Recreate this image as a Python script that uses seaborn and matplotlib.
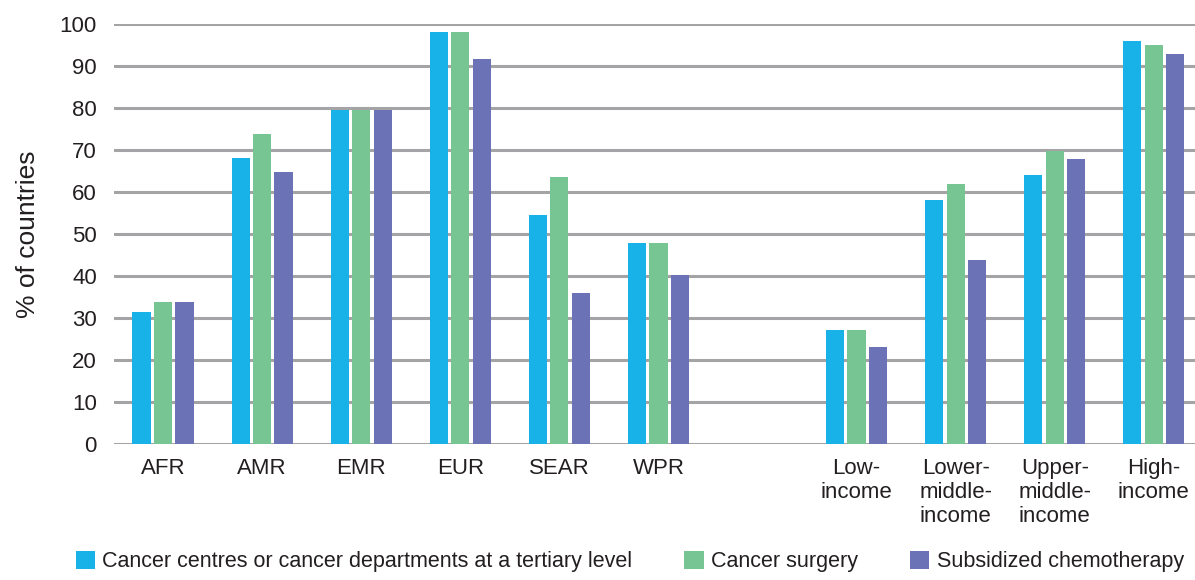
import pandas as pd
import seaborn as sns
import matplotlib.pyplot as plt

# Share of countries with each service, by WHO region and by income group
categories = ["AFR", "AMR", "EMR", "EUR", "SEAR", "WPR", " ",
              "Low-\nincome", "Lower-\nmiddle-\nincome", "Upper-\nmiddle-\nincome", "High-\nincome"]
data_categories = ["AFR", "AMR", "EMR", "EUR", "SEAR", "WPR",
                   "Low-\nincome", "Lower-\nmiddle-\nincome", "Upper-\nmiddle-\nincome", "High-\nincome"]
series_names = ["Cancer centres or cancer departments at a tertiary level",
                "Cancer surgery",
                "Subsidized chemotherapy"]
cancer_centres = [31.4, 68.2, 79.6, 98.0, 54.5, 47.9, 27.1, 58.1, 64.1, 95.9]
cancer_surgery = [33.8, 73.9, 79.6, 98.0, 63.6, 47.9, 27.1, 61.9, 69.8, 94.9]
chemotherapy = [33.8, 64.8, 79.6, 91.6, 35.9, 40.2, 23.0, 43.8, 67.9, 92.8]
colors = ["#19B2E8", "#78C594", "#6B72B5"]

rows = []
for name, vals in zip(series_names, [cancer_centres, cancer_surgery, chemotherapy]):
    for cat, v in zip(data_categories, vals):
        rows.append({"category": cat, "series": name, "value": v})
df = pd.DataFrame(rows)

sns.set_style("white")
plt.rcParams["font.family"] = ["Liberation Sans", "DejaVu Sans"]

fig = plt.figure(figsize=(11.95, 5.8), dpi=100)
ax = fig.add_axes([0.095, 0.2345, 0.912, 0.7241])

sns.barplot(data=df, x="category", y="value", hue="series", order=categories,
            hue_order=series_names, palette=colors, saturation=1, width=0.65, gap=0.15,
            linewidth=0, errorbar=None, ax=ax, legend=True)

ax.set_ylim(0, 100)
ax.set_yticks(range(0, 101, 10))
ax.yaxis.grid(True, color="#A4A4A6", linewidth=2.2)
ax.set_axisbelow(True)
for s in ax.spines.values():
    s.set_visible(False)
ax.tick_params(axis="both", length=0, labelsize=16, colors="#231F20")
ax.tick_params(axis="x", pad=10)
ax.tick_params(axis="y", pad=12)
for lab in ax.get_xticklabels():
    lab.set_linespacing(1.2)
ax.set_xlabel("")
ax.set_ylabel("% of countries", fontsize=19, color="#231F20", labelpad=14)

handles, labels = ax.get_legend_handles_labels()
ax.get_legend().remove()
fig.legend(handles, labels, loc="lower left", bbox_to_anchor=(0.047, -0.02), ncol=3,
           frameon=False, fontsize=15.5, handlelength=0.9, handleheight=0.9,
           handletextpad=0.35, columnspacing=2.4, labelcolor="#231F20")

fig.savefig("out.png", dpi=100)
